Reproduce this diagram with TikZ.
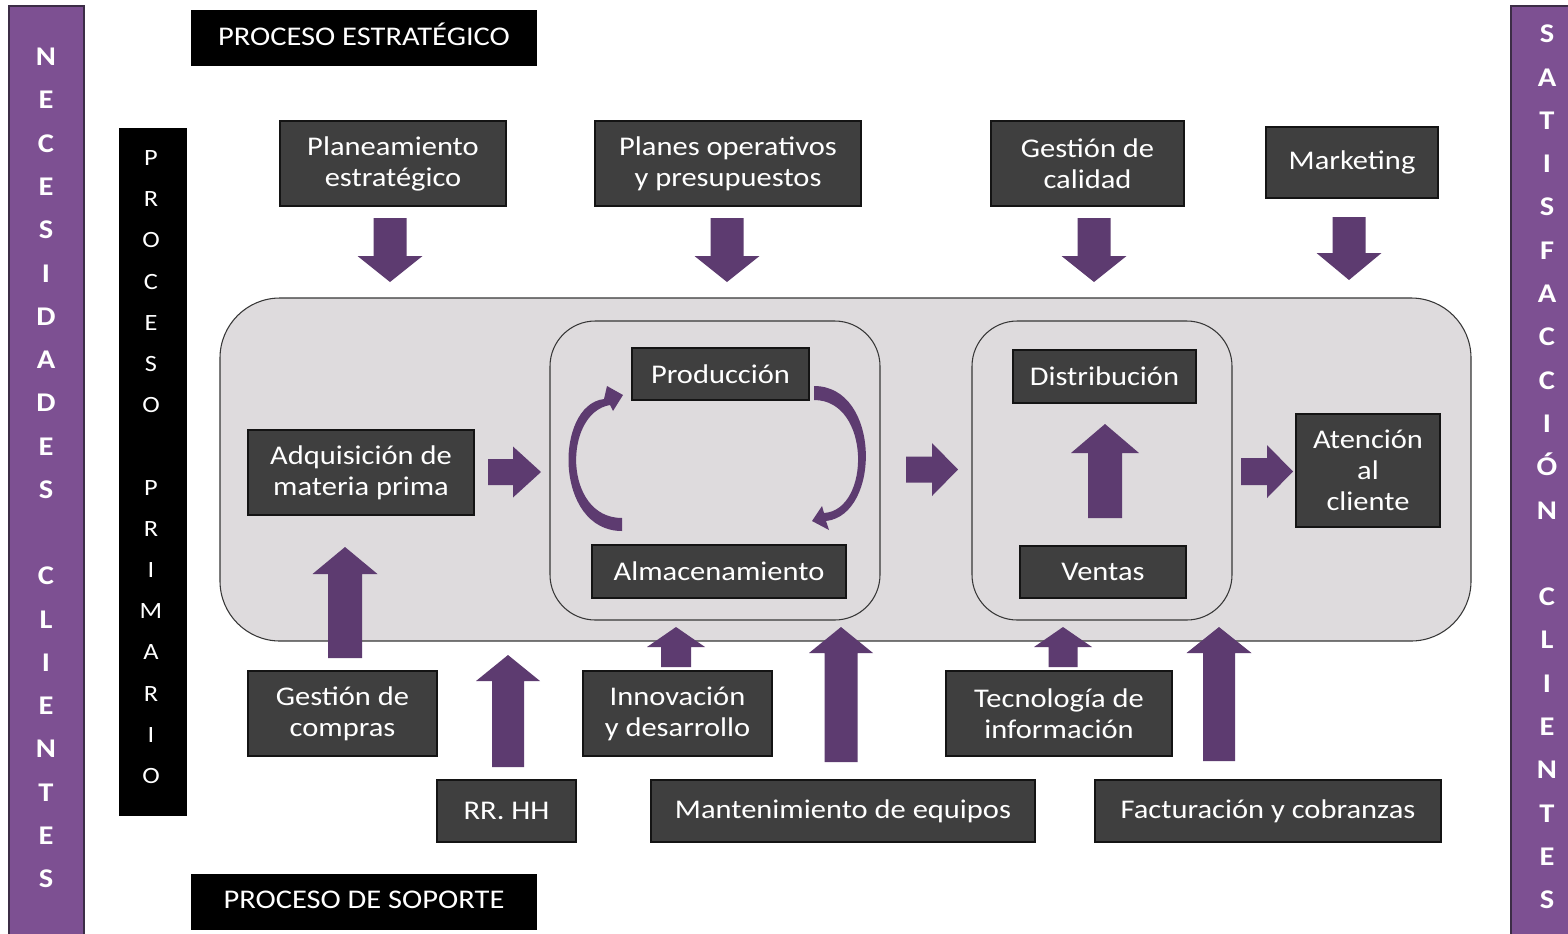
\documentclass[tikz,border=0pt]{standalone}
\usepackage{fontspec}
\setmainfont{Carlito}[FakeStretch=1.13]
\usetikzlibrary{fit}
\definecolor{barc}{RGB}{125,80,146}
\definecolor{barline}{RGB}{60,45,70}
\definecolor{arrowc}{RGB}{93,59,112}
\definecolor{boxc}{RGB}{63,63,63}
\definecolor{boxline}{RGB}{20,20,20}
\definecolor{bigc}{RGB}{222,219,221}
\definecolor{bigline}{RGB}{55,55,55}
\newcommand\vblock[6]{% cx tip base far sh hh
  \fill[arrowc] ({#1-#5},#4) -- ({#1-#5},#3) -- ({#1-#6},#3) -- (#1,#2) -- ({#1+#6},#3) -- ({#1+#5},#3) -- ({#1+#5},#4) -- cycle;}
\newcommand\hblock[6]{% cy tip base far sh hh
  \fill[arrowc] (#4,{#1-#5}) -- (#3,{#1-#5}) -- (#3,{#1-#6}) -- (#2,#1) -- (#3,{#1+#6}) -- (#3,{#1+#5}) -- (#4,{#1+#5}) -- cycle;}
\newcommand\boxtext[2]{\node[txt] (#1T) at (#1.center) {#2};}
\begin{document}
\begin{tikzpicture}[x=0.75pt,y=-0.75pt,
  txt/.style={font=\fontsize{20.25pt}{23.25pt}\selectfont, text=white, align=center, inner sep=0pt},
  dbox/.style={fill=boxc, draw=boxline, line width=0.8pt, inner sep=0pt},
  tbox/.style={fill=black, inner sep=0pt},
  barbox/.style={fill=barc, draw=barline, line width=0.8pt, inner sep=0pt},
  barletter/.style={font=\fontsize{20.25pt}{23pt}\selectfont\bfseries, text=white, inner sep=0pt, anchor=base},
  priletter/.style={font=\fontsize{17.5pt}{20pt}\selectfont, text=white, inner sep=0pt, anchor=base},
  roundbox/.style={draw=bigline, line width=0.8pt, inner sep=0pt}]
\useasboundingbox (0,0) rectangle (1568,933);
\fill[white] (0,0) rectangle (1568,933);

% side bars
\node[barbox, fit={(9,6) (84,945)}] (needs) {};
\node[barbox, fit={(1511,6) (1580,945)}] (satis) {};
\foreach \c [count=\i from 0] in {N,E,C,E,S,I,D,A,D,E,S,{},C,L,I,E,N,T,E,S}
  \node[barletter] (nl\i) at (46,{57+8.7+\i*43.26}) {\c};
\foreach \c [count=\i from 0] in {S,A,T,I,S,F,A,C,C,I,Ó,N,{},C,L,I,E,N,T,E,S}
  \node[barletter] (sl\i) at (1547,{34+8.7+\i*43.3}) {\c};

% primary process bar
\node[fill=black, inner sep=0pt, fit={(119,128) (187,816)}] (primbar) {};
\foreach \c [count=\i from 0] in {P,R,O,C,E,S,O,{},P,R,I,M,A,R,I,O}
  \node[priletter] (pl\i) at (151,{158+7.5+\i*41.2}) {\c};

% titles
\node[tbox, fit={(191,10) (537,66)}] (estrat) {};
\node[txt] (estratT) at ([yshift=3pt]estrat.center) {PROCESO ESTRATÉGICO};
\node[tbox, fit={(191,874) (537,930)}] (soporte) {};
\node[txt] (soporteT) at ([yshift=1.5pt]soporte.center) {PROCESO DE SOPORTE};

% main rounded areas
\node[roundbox, fill=bigc, rounded corners=45pt, fit={(220,298) (1471,641)}] (main) {};
\node[roundbox, rounded corners=34pt, fit={(550,321) (880,620)}] (inner1) {};
\node[roundbox, rounded corners=34pt, fit={(972,321) (1232,620)}] (inner2) {};

% strategic boxes
\node[dbox, fit={(280,121) (506,206)}] (plan) {};
\boxtext{plan}{Planeamiento\\estratégico}
\node[dbox, fit={(595,121) (861,206)}] (planes) {};
\boxtext{planes}{Planes operativos\\y presupuestos}
\node[dbox, fit={(991,121) (1184,206)}] (calidad) {};
\boxtext{calidad}{Gestión de\\calidad}
\node[dbox, fit={(1266,127) (1438,198)}] (mkt) {};
\boxtext{mkt}{Marketing}

% primary boxes
\node[dbox, fit={(248,430) (474,515)}] (adq) {};
\boxtext{adq}{Adquisición de\\materia prima}
\node[dbox, fit={(632,348) (809,400)}] (prod) {};
\boxtext{prod}{Producción}
\node[dbox, fit={(592,545) (846,598)}] (alm) {};
\boxtext{alm}{Almacenamiento}
\node[dbox, fit={(1013,350) (1196,403)}] (dist) {};
\boxtext{dist}{Distribución}
\node[dbox, fit={(1020,546) (1186,598)}] (ventas) {};
\boxtext{ventas}{Ventas}
\node[dbox, fit={(1296,414) (1440,527)}] (aten) {};
\boxtext{aten}{Atención\\al\\cliente}

% support boxes
\node[dbox, fit={(248,671) (437,756)}] (compras) {};
\boxtext{compras}{Gestión de\\compras}
\node[dbox, fit={(583,671) (772,756)}] (innov) {};
\boxtext{innov}{Innovación\\y desarrollo}
\node[dbox, fit={(946,671) (1172,756)}] (tecn) {};
\boxtext{tecn}{Tecnología de\\información}
\node[dbox, fit={(437,780) (576,842)}] (rrhh) {};
\boxtext{rrhh}{RR. HH}
\node[dbox, fit={(651,780) (1035,842)}] (mant) {};
\boxtext{mant}{Mantenimiento de equipos}
\node[dbox, fit={(1095,780) (1441,842)}] (fact) {};
\boxtext{fact}{Facturación y cobranzas}

% down arrows (strategic)
\vblock{390}{282}{256}{218}{16.5}{32.5}
\vblock{727}{282}{256}{218}{16.5}{32.5}
\vblock{1094}{282}{256}{218}{16.5}{32.5}
\vblock{1349}{280}{253}{217}{16.5}{32.5}

% up arrows (support)
\vblock{345}{547}{574}{658}{17}{32.5}
\vblock{508}{655}{681}{767}{16}{32}
\vblock{676}{627}{647}{667}{15}{29}
\vblock{841}{627}{653}{762}{16.5}{32}
\vblock{1063}{627}{647}{667}{14.5}{29}
\vblock{1219}{627}{653}{761}{16}{32.5}
\vblock{1105}{424}{453}{518}{17}{34}

% right arrows
\hblock{472}{541}{513}{488}{13}{25.5}
\hblock{469.5}{958}{932}{906}{13}{26.5}
\hblock{471.5}{1293}{1267}{1241}{13.5}{26.5}

% curved arrows
\fill[arrowc] (622,531) .. controls (554,531) and (554,405) .. (604,399) -- (607,386) -- (623,395) -- (613,411) -- (610,405) .. controls (563,413) and (563,518) .. (622,518) -- cycle;
\fill[arrowc] (814,386) .. controls (881,386) and (881,515) .. (826,521) -- (829,530) -- (812,521) -- (822,506) -- (824,513) .. controls (871,510) and (871,400) .. (814,400) -- cycle;
\end{tikzpicture}
\end{document}
